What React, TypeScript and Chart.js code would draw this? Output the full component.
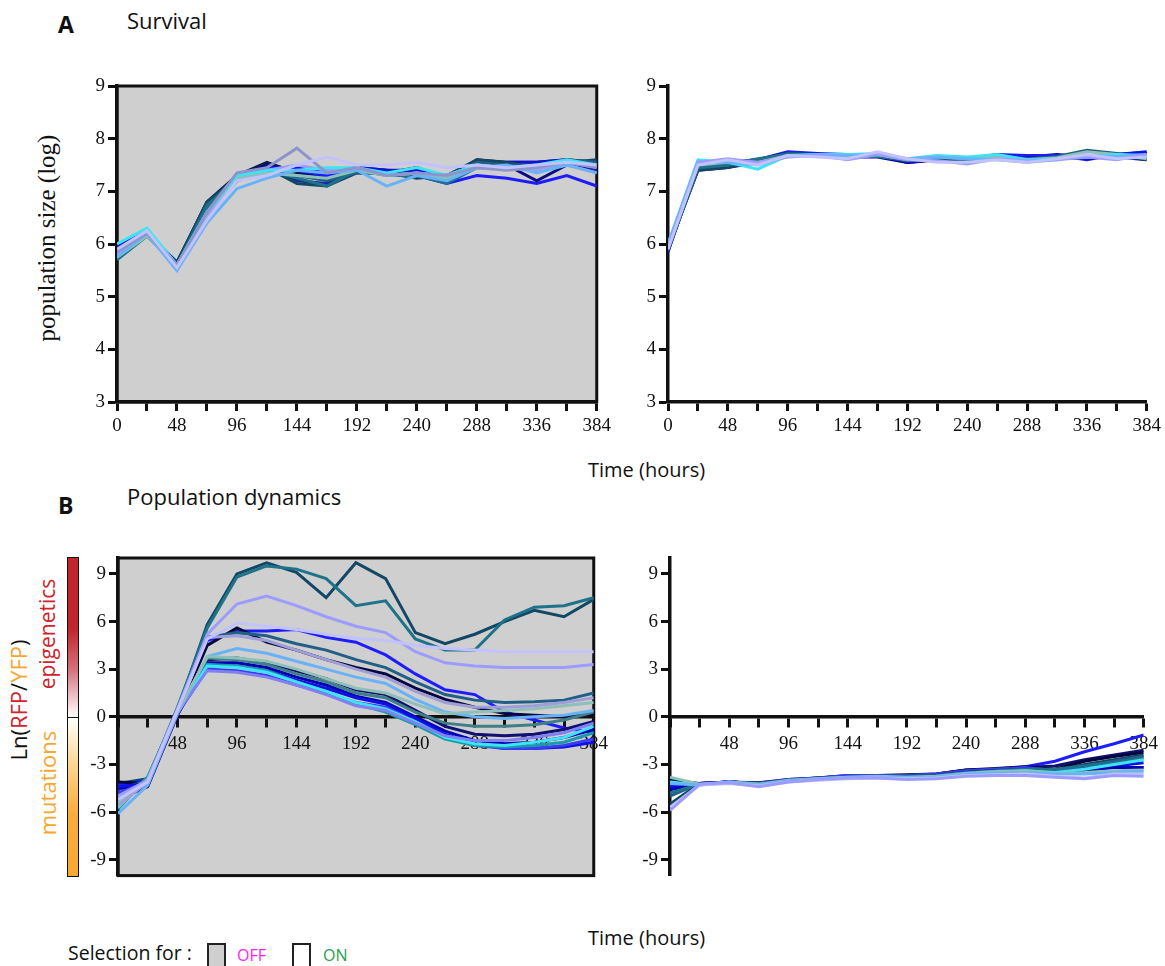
import { useEffect, useRef } from "react";
import { Chart, registerables } from "chart.js";

Chart.register(...registerables);

// Sampling times (hours)
const HOURS = [0, 24, 48, 72, 96, 120, 144, 168, 192, 216, 240, 264, 288, 312, 336, 360, 384];
const SURVIVAL_TICKS = [3, 4, 5, 6, 7, 8, 9];
const DYNAMICS_TICKS = [-9, -6, -3, 0, 3, 6, 9];

// ---- A, selection OFF: population size (log) ----
const offSurvLavender = [5.9, 6.25, 5.55, 6.45, 7.2, 7.3, 7.5, 7.65, 7.5, 7.5, 7.55, 7.45, 7.5, 7.45, 7.5, 7.55, 7.5];
const offSurvGreyBlue = [5.85, 6.2, 5.6, 6.6, 7.35, 7.45, 7.82, 7.35, 7.45, 7.3, 7.35, 7.3, 7.45, 7.4, 7.45, 7.55, 7.45];
const offSurvSky = [5.75, 6.2, 5.5, 6.4, 7.05, 7.25, 7.4, 7.35, 7.4, 7.1, 7.3, 7.2, 7.45, 7.5, 7.35, 7.5, 7.35];
const offSurvCyan = [6.0, 6.3, 5.6, 6.6, 7.3, 7.4, 7.4, 7.45, 7.45, 7.35, 7.45, 7.3, 7.5, 7.45, 7.5, 7.6, 7.5];
const offSurvSeafoam = [5.75, 6.15, 5.6, 6.6, 7.25, 7.35, 7.3, 7.25, 7.4, 7.3, 7.35, 7.25, 7.45, 7.45, 7.45, 7.55, 7.45];
const offSurvPeriwinkle = [5.8, 6.2, 5.5, 6.5, 7.3, 7.4, 7.5, 7.4, 7.45, 7.3, 7.35, 7.3, 7.5, 7.45, 7.4, 7.5, 7.35];
const offSurvTeal = [5.7, 6.15, 5.6, 6.7, 7.3, 7.4, 7.25, 7.1, 7.4, 7.3, 7.3, 7.15, 7.45, 7.45, 7.45, 7.55, 7.5];
const offSurvSteel = [5.8, 6.2, 5.6, 6.75, 7.2, 7.4, 7.3, 7.2, 7.35, 7.35, 7.3, 7.25, 7.55, 7.5, 7.5, 7.6, 7.55];
const offSurvDarkTeal = [5.85, 6.15, 5.65, 6.8, 7.25, 7.45, 7.15, 7.1, 7.35, 7.35, 7.25, 7.3, 7.6, 7.55, 7.45, 7.55, 7.6];
const offSurvBlue = [5.85, 6.2, 5.6, 6.5, 7.2, 7.4, 7.4, 7.3, 7.4, 7.35, 7.3, 7.15, 7.3, 7.25, 7.15, 7.3, 7.1];
const offSurvRoyal = [5.95, 6.25, 5.6, 6.6, 7.25, 7.45, 7.45, 7.35, 7.45, 7.4, 7.4, 7.3, 7.5, 7.55, 7.55, 7.6, 7.45];
const offSurvIndigo = [5.8, 6.2, 5.65, 6.7, 7.2, 7.45, 7.2, 7.15, 7.4, 7.35, 7.35, 7.2, 7.55, 7.5, 7.5, 7.55, 7.4];
const offSurvDarkBlue = [5.9, 6.25, 5.6, 6.75, 7.25, 7.5, 7.4, 7.25, 7.45, 7.4, 7.35, 7.2, 7.5, 7.5, 7.2, 7.5, 7.4];
const offSurvNavy = [5.85, 6.2, 5.65, 6.8, 7.3, 7.55, 7.35, 7.3, 7.4, 7.35, 7.45, 7.25, 7.6, 7.55, 7.55, 7.6, 7.55];

// ---- A, selection ON: population size (log) ----
const onSurvLavender = [5.9, 7.5, 7.6, 7.5, 7.68, 7.65, 7.62, 7.75, 7.62, 7.55, 7.55, 7.6, 7.55, 7.62, 7.7, 7.62, 7.65];
const onSurvPeriwinkle = [5.95, 7.55, 7.62, 7.55, 7.65, 7.68, 7.6, 7.7, 7.6, 7.58, 7.52, 7.62, 7.58, 7.6, 7.65, 7.6, 7.7];
const onSurvSky = [6.0, 7.55, 7.55, 7.5, 7.66, 7.7, 7.68, 7.7, 7.62, 7.65, 7.62, 7.6, 7.55, 7.6, 7.68, 7.66, 7.7];
const onSurvCyan = [6.0, 7.6, 7.55, 7.42, 7.68, 7.7, 7.7, 7.72, 7.62, 7.68, 7.65, 7.7, 7.6, 7.62, 7.65, 7.7, 7.68];
const onSurvSeafoam = [5.95, 7.5, 7.55, 7.55, 7.68, 7.68, 7.66, 7.7, 7.6, 7.66, 7.62, 7.66, 7.6, 7.64, 7.75, 7.7, 7.62];
const onSurvTeal = [5.9, 7.45, 7.5, 7.62, 7.7, 7.68, 7.66, 7.66, 7.6, 7.66, 7.6, 7.68, 7.6, 7.62, 7.64, 7.7, 7.66];
const onSurvSteel = [5.88, 7.45, 7.5, 7.6, 7.72, 7.7, 7.66, 7.68, 7.58, 7.62, 7.6, 7.68, 7.62, 7.66, 7.78, 7.72, 7.64];
const onSurvDarkTeal = [5.92, 7.4, 7.45, 7.58, 7.7, 7.7, 7.66, 7.66, 7.58, 7.62, 7.58, 7.64, 7.58, 7.62, 7.64, 7.7, 7.6];
const onSurvRoyal = [5.86, 7.5, 7.55, 7.6, 7.72, 7.7, 7.66, 7.68, 7.56, 7.6, 7.58, 7.66, 7.64, 7.66, 7.62, 7.7, 7.74];
const onSurvDarkBlue = [5.9, 7.45, 7.5, 7.6, 7.72, 7.7, 7.68, 7.7, 7.55, 7.6, 7.6, 7.65, 7.62, 7.65, 7.62, 7.7, 7.72];
const onSurvBlue = [5.85, 7.5, 7.55, 7.6, 7.75, 7.72, 7.7, 7.68, 7.6, 7.65, 7.62, 7.7, 7.68, 7.68, 7.6, 7.7, 7.75];
const onSurvNavy = [5.9, 7.4, 7.45, 7.55, 7.7, 7.7, 7.65, 7.65, 7.55, 7.6, 7.6, 7.65, 7.65, 7.7, 7.65, 7.65, 7.6];

// ---- B, selection OFF: Ln(RFP/YFP) ----
const offDynLavender = [-5.2, -4.1, 0.4, 4.9, 5.9, 5.7, 5.5, 5.2, 4.95, 4.8, 4.5, 4.3, 4.2, 4.1, 4.1, 4.1, 4.1];
const offDynPeriwinkle = [-5.0, -4.0, 0.5, 5.2, 7.1, 7.6, 7.0, 6.3, 5.7, 5.3, 4.1, 3.4, 3.2, 3.1, 3.1, 3.1, 3.3];
const offDynGreyLavender = [-5.6, -4.1, 0.3, 5.0, 5.1, 4.8, 4.2, 3.6, 3.0, 2.5, 1.6, 0.9, 0.6, 0.6, 0.7, 0.9, 1.2];
const offDynSeafoam = [-5.4, -4.0, 0.3, 3.8, 3.7, 3.5, 3.0, 2.4, 1.8, 1.5, 0.8, 0.2, 0.3, 0.4, 0.5, 0.7, 0.9];
const offDynSky = [-6.1, -4.3, 0.2, 3.8, 4.3, 4.0, 3.5, 3.0, 2.5, 2.1, 1.1, 0.3, 0.0, -0.1, 0.0, 0.1, 0.4];
const offDynLilac = [-5.0, -4.0, 0.3, 2.9, 2.8, 2.5, 2.0, 1.4, 0.7, 0.4, -0.4, -1.2, -1.5, -1.5, -1.3, -1.0, -0.4];
const offDynCyan = [-5.7, -3.9, 0.3, 3.2, 3.1, 2.8, 2.2, 1.6, 0.9, 0.5, -0.3, -1.3, -1.7, -1.8, -1.6, -1.3, -0.6];
const offDynGreyTeal = [-5.8, -3.8, 0.4, 3.7, 3.6, 3.3, 2.7, 2.2, 1.5, 1.2, 0.3, -0.4, -0.6, -0.6, -0.5, -0.2, 0.3];
const offDynTeal2 = [-5.5, -3.8, 0.4, 3.3, 3.2, 2.9, 2.2, 1.6, 0.8, 0.3, -0.5, -1.4, -1.8, -1.9, -1.8, -1.6, -1.0];
const offDynMidBlue = [-4.8, -4.1, 0.2, 3.0, 2.9, 2.6, 2.0, 1.5, 0.9, 0.6, -0.3, -1.2, -1.8, -2.0, -2.0, -1.8, -1.4];
const offDynRoyal = [-4.4, -4.2, 0.2, 3.2, 3.2, 2.9, 2.3, 1.8, 1.2, 0.8, -0.1, -1.1, -1.7, -2.0, -2.0, -1.9, -1.6];
const offDynDeepBlue = [-4.5, -4.3, 0.2, 3.4, 3.4, 3.1, 2.5, 2.0, 1.3, 0.9, 0.0, -0.9, -1.5, -1.7, -1.6, -1.3, -0.8];
const offDynNavy2 = [-5.2, -4.4, 0.1, 3.6, 3.7, 3.4, 2.9, 2.4, 1.7, 1.4, 0.4, -0.6, -1.1, -1.2, -1.1, -0.8, -0.3];
const offDynSteel = [-4.6, -4.0, 0.3, 5.0, 5.3, 5.1, 4.6, 4.2, 3.6, 3.1, 2.2, 1.4, 1.05, 0.9, 0.95, 1.05, 1.5];
const offDynNavy = [-4.1, -4.2, 0.2, 4.5, 5.6, 4.7, 4.2, 3.6, 3.1, 2.7, 1.8, 1.1, 0.6, 0.2, 0.1, 0.0, 0.2];
const offDynBlue = [-4.3, -4.0, 0.3, 4.8, 5.4, 5.4, 5.5, 5.0, 4.7, 3.9, 2.7, 1.7, 1.4, 0.3, -0.2, -0.7, -1.0];
const offDynTeal = [-4.5, -4.0, 0.6, 5.6, 8.8, 9.5, 9.3, 8.7, 7.0, 7.3, 4.9, 4.2, 4.2, 6.1, 6.9, 7.0, 7.5];
const offDynDarkTeal = [-4.2, -3.9, 0.4, 5.8, 9.0, 9.7, 9.1, 7.5, 9.7, 8.7, 5.3, 4.6, 5.2, 6.0, 6.7, 6.3, 7.4];

// ---- B, selection ON: Ln(RFP/YFP) ----
const onDynPeriwinkle = [-5.9, -4.25, -4.15, -4.4, -4.1, -3.95, -3.85, -3.85, -3.95, -3.9, -3.75, -3.7, -3.7, -3.8, -3.9, -3.7, -3.75];
const onDynLavender = [-5.7, -4.3, -4.2, -4.35, -4.1, -4.0, -3.9, -3.85, -3.9, -3.85, -3.7, -3.65, -3.6, -3.75, -3.85, -3.6, -3.6];
const onDynSky = [-4.2, -4.3, -4.15, -4.3, -4.05, -3.95, -3.85, -3.8, -3.85, -3.8, -3.6, -3.55, -3.5, -3.6, -3.6, -3.5, -3.45];
const onDynSeafoam = [-3.8, -4.25, -4.1, -4.25, -4.0, -3.9, -3.8, -3.75, -3.8, -3.75, -3.55, -3.45, -3.4, -3.55, -3.5, -3.4, -3.35];
const onDynCyan = [-4.1, -4.3, -4.1, -4.25, -4.05, -3.9, -3.8, -3.8, -3.85, -3.8, -3.6, -3.5, -3.4, -3.5, -3.3, -3.0, -2.7];
const onDynTeal = [-4.8, -4.25, -4.15, -4.25, -4.0, -3.9, -3.8, -3.75, -3.75, -3.7, -3.5, -3.4, -3.3, -3.3, -3.1, -2.9, -2.6];
const onDynDeepBlue = [-4.6, -4.2, -4.15, -4.3, -4.05, -3.95, -3.8, -3.75, -3.8, -3.7, -3.5, -3.4, -3.35, -3.6, -3.4, -3.2, -3.2];
const onDynRoyal = [-4.4, -4.25, -4.1, -4.25, -4.0, -3.9, -3.8, -3.75, -3.75, -3.7, -3.5, -3.4, -3.3, -3.5, -3.3, -3.1, -2.9];
const onDynMidBlue = [-4.3, -4.2, -4.1, -4.2, -3.95, -3.85, -3.7, -3.7, -3.7, -3.6, -3.4, -3.3, -3.2, -3.4, -3.25, -3.2, -3.2];
const onDynSteel = [-5.0, -4.2, -4.1, -4.2, -4.0, -3.85, -3.75, -3.7, -3.7, -3.65, -3.45, -3.35, -3.25, -3.35, -3.1, -2.8, -2.5];
const onDynDarkTeal = [-5.5, -4.2, -4.1, -4.2, -4.0, -3.85, -3.75, -3.7, -3.7, -3.65, -3.4, -3.3, -3.25, -3.4, -3.0, -2.7, -2.4];
const onDynDarkNavy = [-3.9, -4.25, -4.1, -4.15, -3.95, -3.85, -3.7, -3.7, -3.65, -3.6, -3.35, -3.25, -3.15, -3.3, -2.8, -2.5, -2.25];
const onDynNavy = [-4.0, -4.2, -4.1, -4.2, -4.0, -3.85, -3.75, -3.7, -3.7, -3.6, -3.35, -3.3, -3.2, -3.1, -2.7, -2.4, -2.1];
const onDynBlue = [-4.5, -4.2, -4.1, -4.2, -4.0, -3.9, -3.75, -3.7, -3.7, -3.65, -3.4, -3.3, -3.15, -2.8, -2.2, -1.7, -1.15];

// Line colours (drawn in list order, lightest first)
const C = {
  lavender: "#c2c2ff",
  greyBlue: "#8d94cc",
  periwinkle: "#9c9cff",
  greyLavender: "#9e9ed8",
  sky: "#68b2f8",
  cyan: "#3ee3f5",
  seafoam: "#8cc0b8",
  lilac: "#8080f0",
  greyTeal: "#3f8088",
  teal2: "#1b9aa8",
  teal: "#1d7389",
  steel: "#215f86",
  darkTeal: "#124866",
  midBlue: "#3a3aff",
  royal: "#1010e0",
  deepBlue: "#0000b8",
  blue: "#1c1cff",
  indigo: "#2323a8",
  darkBlue: "#0a0a82",
  navy2: "#101070",
  navy: "#0b1a4f",
  darkNavy: "#070740",
};

const survivalOff = [
  { data: offSurvLavender, color: C.lavender },
  { data: offSurvGreyBlue, color: C.greyBlue },
  { data: offSurvSky, color: C.sky },
  { data: offSurvCyan, color: C.cyan },
  { data: offSurvSeafoam, color: C.seafoam },
  { data: offSurvPeriwinkle, color: C.periwinkle },
  { data: offSurvTeal, color: C.teal },
  { data: offSurvSteel, color: C.steel },
  { data: offSurvDarkTeal, color: C.darkTeal },
  { data: offSurvBlue, color: C.blue },
  { data: offSurvRoyal, color: C.royal },
  { data: offSurvIndigo, color: C.indigo },
  { data: offSurvDarkBlue, color: C.darkBlue },
  { data: offSurvNavy, color: C.navy },
];

const survivalOn = [
  { data: onSurvLavender, color: C.lavender },
  { data: onSurvPeriwinkle, color: C.periwinkle },
  { data: onSurvSky, color: C.sky },
  { data: onSurvCyan, color: C.cyan },
  { data: onSurvSeafoam, color: C.seafoam },
  { data: onSurvTeal, color: C.teal },
  { data: onSurvSteel, color: C.steel },
  { data: onSurvDarkTeal, color: C.darkTeal },
  { data: onSurvRoyal, color: C.royal },
  { data: onSurvDarkBlue, color: C.darkBlue },
  { data: onSurvBlue, color: C.blue },
  { data: onSurvNavy, color: C.deepBlue },
];

const dynamicsOff = [
  { data: offDynLavender, color: C.lavender },
  { data: offDynPeriwinkle, color: C.periwinkle },
  { data: offDynGreyLavender, color: C.greyLavender },
  { data: offDynSeafoam, color: C.seafoam },
  { data: offDynSky, color: C.sky },
  { data: offDynLilac, color: C.lilac },
  { data: offDynCyan, color: C.cyan },
  { data: offDynGreyTeal, color: C.greyTeal },
  { data: offDynTeal2, color: C.teal2 },
  { data: offDynMidBlue, color: C.midBlue },
  { data: offDynRoyal, color: C.royal },
  { data: offDynDeepBlue, color: C.deepBlue },
  { data: offDynNavy2, color: C.navy2 },
  { data: offDynSteel, color: C.steel },
  { data: offDynNavy, color: C.darkNavy },
  { data: offDynBlue, color: C.blue },
  { data: offDynTeal, color: C.teal },
  { data: offDynDarkTeal, color: C.darkTeal },
];

const dynamicsOn = [
  { data: onDynPeriwinkle, color: C.periwinkle },
  { data: onDynLavender, color: C.lavender },
  { data: onDynSky, color: C.sky },
  { data: onDynSeafoam, color: C.seafoam },
  { data: onDynCyan, color: C.cyan },
  { data: onDynTeal, color: C.teal },
  { data: onDynDeepBlue, color: C.deepBlue },
  { data: onDynRoyal, color: C.royal },
  { data: onDynMidBlue, color: C.midBlue },
  { data: onDynSteel, color: C.steel },
  { data: onDynDarkTeal, color: C.darkTeal },
  { data: onDynDarkNavy, color: C.darkNavy },
  { data: onDynNavy, color: C.navy2 },
  { data: onDynBlue, color: C.blue },
];

const SERIF = "'Liberation Serif', 'DejaVu Serif', serif";
const SANS = "'Open Sans', 'Noto Sans', sans-serif";
const INK = "#111";

// Grey plot background with a black frame for the "selection OFF" panels
const framePlugin = {
  id: "plotFrame",
  beforeDraw(chart: any, _args: any, opts: any) {
    if (!opts || !opts.fill) return;
    const { ctx, chartArea: a } = chart;
    ctx.save();
    ctx.fillStyle = opts.fill;
    ctx.fillRect(a.left, a.top, a.right - a.left, a.bottom - a.top);
    ctx.restore();
  },
  beforeDatasetsDraw(chart: any, _args: any, opts: any) {
    if (!opts || !opts.fill) return;
    const { ctx, chartArea: a } = chart;
    ctx.save();
    ctx.strokeStyle = "#111";
    ctx.lineWidth = 3;
    ctx.strokeRect(a.left, a.top, a.right - a.left, a.bottom - a.top);
    ctx.restore();
  },
};

type Rect = { left: number; top: number; right: number; bottom: number };
type Box = { x: number; y: number; w: number; h: number };

type PanelProps = {
  box: Box;
  plot: Rect;
  series: { data: number[]; color: string }[];
  yMin: number;
  yMax: number;
  yTicks: number[];
  grey: boolean;
  zeroAxis: boolean;
};

function Panel({ box, plot, series, yMin, yMax, yTicks, grey, zeroAxis }: PanelProps) {
  const ref = useRef<HTMLCanvasElement>(null);

  useEffect(() => {
    if (!ref.current) return;
    const yWidth = plot.left - box.x;
    const padTop = plot.top - box.y;
    const padRight = box.x + box.w - plot.right;
    const below = box.y + box.h - plot.bottom;

    const tickFont = { family: SERIF, size: 19 };
    const gridStyle = {
      drawOnChartArea: false,
      drawTicks: true,
      tickLength: 9,
      tickWidth: 3,
      tickColor: "#111",
    };

    const chart = new Chart(ref.current, {
      type: "line",
      data: {
        labels: HOURS,
        datasets: series.map((s) => ({
          data: HOURS.map((h, i) => ({ x: h, y: s.data[i] })),
          borderColor: s.color,
          backgroundColor: s.color,
          borderWidth: 3,
          pointRadius: 0,
          tension: 0,
          fill: false,
        })),
      },
      options: {
        animation: false,
        responsive: false,
        maintainAspectRatio: false,
        devicePixelRatio: 1,
        layout: {
          padding: { top: padTop, right: padRight, left: 0, bottom: zeroAxis ? below : 0 },
        },
        plugins: {
          legend: { display: false },
          tooltip: { enabled: false },
          plotFrame: { fill: grey ? "#d0cfcf" : null },
        } as any,
        scales: {
          x: {
            type: "linear",
            min: 0,
            max: 384,
            position: zeroAxis ? ({ y: 0 } as any) : "bottom",
            afterBuildTicks: (s: any) => {
              s.ticks = HOURS.map((v) => ({ value: v }));
            },
            afterFit: (s: any) => {
              if (!zeroAxis) s.height = below;
            },
            ticks: {
              autoSkip: false,
              maxRotation: 0,
              padding: zeroAxis ? 7 : 4,
              color: INK,
              font: tickFont,
              callback: (v: any) => {
                const n = Number(v);
                if (n % 48 !== 0) return "";
                if (zeroAxis && n === 0) return "";
                return String(n);
              },
            },
            grid: gridStyle,
            border: { display: true, width: 3.5, color: "#111" },
          },
          y: {
            type: "linear",
            min: yMin,
            max: yMax,
            afterBuildTicks: (s: any) => {
              s.ticks = yTicks.map((v) => ({ value: v }));
            },
            afterFit: (s: any) => {
              s.width = yWidth;
            },
            ticks: {
              padding: 3,
              color: INK,
              font: tickFont,
              callback: (v: any) => String(v),
            },
            grid: gridStyle,
            border: { display: true, width: 3.5, color: "#111" },
          },
        },
      },
      plugins: [framePlugin],
    });
    return () => chart.destroy();
  }, []);

  return (
    <canvas
      ref={ref}
      width={box.w}
      height={box.h}
      style={{ position: "absolute", left: box.x, top: box.y, width: box.w, height: box.h }}
    />
  );
}

function Label({ x, y, size, children, color = INK, bold = false, family = SANS }: any) {
  return (
    <div
      style={{
        position: "absolute",
        left: x,
        top: y,
        fontFamily: family,
        fontSize: size,
        fontWeight: bold ? 700 : 400,
        color,
        lineHeight: 1,
        whiteSpace: "nowrap",
      }}
    >
      {children}
    </div>
  );
}

function VLabel({ cx, cy, size, children, color = INK, family = SANS }: any) {
  return (
    <div
      style={{
        position: "absolute",
        left: cx,
        top: cy,
        transform: "translate(-50%, -50%) rotate(-90deg)",
        fontFamily: family,
        fontSize: size,
        color,
        lineHeight: 1,
        whiteSpace: "nowrap",
      }}
    >
      {children}
    </div>
  );
}

export default function App() {
  return (
    <div
      style={{
        position: "absolute",
        left: 0,
        top: 0,
        width: 1165,
        height: 966,
        background: "#fff",
        overflow: "hidden",
      }}
    >
      <Label x={58} y={13} size={23} bold>A</Label>
      <Label x={127} y={9} size={22}>Survival</Label>
      <VLabel cx={46} cy={238} size={25} family={SERIF}>population size (log)</VLabel>

      <Panel
        box={{ x: 60, y: 60, w: 555, h: 390 }}
        plot={{ left: 117, top: 86, right: 597, bottom: 402 }}
        series={survivalOff}
        yMin={3}
        yMax={9}
        yTicks={SURVIVAL_TICKS}
        grey
        zeroAxis={false}
      />
      <Panel
        box={{ x: 615, y: 60, w: 550, h: 390 }}
        plot={{ left: 668, top: 86, right: 1148, bottom: 402 }}
        series={survivalOn}
        yMin={3}
        yMax={9}
        yTicks={SURVIVAL_TICKS}
        grey={false}
        zeroAxis={false}
      />
      <Label x={588} y={460} size={20}>Time (hours)</Label>

      <Label x={58} y={494} size={23} bold>B</Label>
      <Label x={127} y={485} size={22}>Population dynamics</Label>

      {/* colour scale for Ln(RFP/YFP) */}
      <div
        style={{
          position: "absolute",
          left: 67,
          top: 557,
          width: 10,
          height: 159,
          border: "1.5px solid #111",
          background: "linear-gradient(to bottom, #c1262c 0%, #c1262c 45%, #d4707a 70%, #ffffff 100%)",
        }}
      />
      <div
        style={{
          position: "absolute",
          left: 67,
          top: 717,
          width: 10,
          height: 158,
          border: "1.5px solid #111",
          background: "linear-gradient(to bottom, #ffffff 0%, #fbd58e 30%, #f8ad3a 60%, #f7a833 100%)",
        }}
      />
      <VLabel cx={47} cy={634} size={21} color="#d2232a">epigenetics</VLabel>
      <VLabel cx={47} cy={783} size={22} color="#f7a731">mutations</VLabel>
      <VLabel cx={18} cy={700} size={22}>
        Ln(<span style={{ color: "#d2232a" }}>RFP</span>/<span style={{ color: "#f7a731" }}>YFP</span>)
      </VLabel>

      <Panel
        box={{ x: 85, y: 540, w: 530, h: 350 }}
        plot={{ left: 118, top: 558, right: 598, bottom: 876 }}
        series={dynamicsOff}
        yMin={-10}
        yMax={10}
        yTicks={DYNAMICS_TICKS}
        grey
        zeroAxis
      />
      <Panel
        box={{ x: 625, y: 540, w: 540, h: 350 }}
        plot={{ left: 670, top: 558, right: 1150, bottom: 876 }}
        series={dynamicsOn}
        yMin={-10}
        yMax={10}
        yTicks={DYNAMICS_TICKS}
        grey={false}
        zeroAxis
      />
      <Label x={588} y={928} size={20}>Time (hours)</Label>

      {/* selection legend */}
      <Label x={68} y={943} size={19.5}>Selection for :</Label>
      <div
        style={{
          position: "absolute",
          left: 207,
          top: 943,
          width: 15,
          height: 22,
          background: "#cfcfcf",
          border: "2.5px solid #222",
        }}
      />
      <Label x={237} y={947} size={16} color="#ff1aff">OFF</Label>
      <div
        style={{
          position: "absolute",
          left: 292,
          top: 943,
          width: 15,
          height: 22,
          background: "#fff",
          border: "2.5px solid #222",
        }}
      />
      <Label x={323} y={947} size={16} color="#1f9e4b">ON</Label>
    </div>
  );
}
